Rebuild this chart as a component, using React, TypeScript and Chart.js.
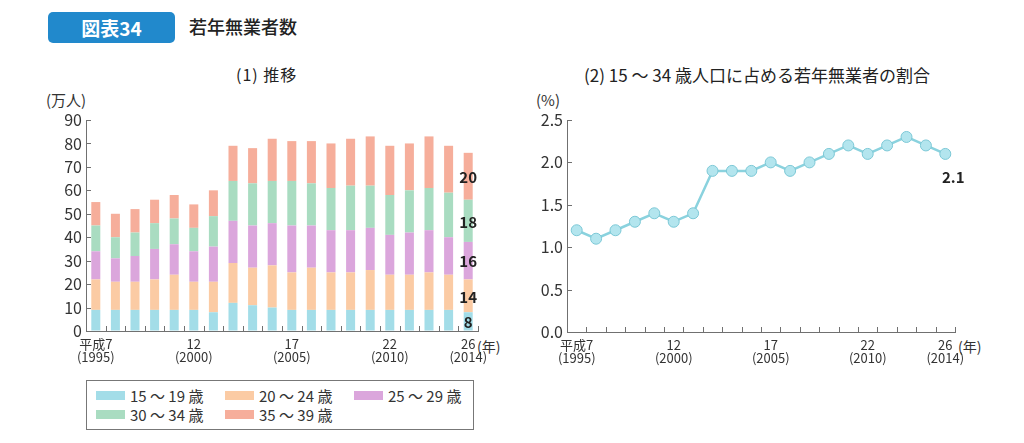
import React, { useEffect, useRef } from "react";
import { Chart, registerables } from "chart.js";

Chart.register(...registerables);

const years = ["1995","1996","1997","1998","1999","2000","2001","2002","2003","2004","2005","2006","2007","2008","2009","2010","2011","2012","2013","2014"];
const tickTop = ["平成7","","","","","12","","","","","17","","","","","22","","","","26"];
const tickBottom = ["(1995)","","","","","(2000)","","","","","(2005)","","","","","(2010)","","","","(2014)"];

const age15to19 = [9,9,9,9,9,9,8,12,11,10,9,9,9,9,9,9,9,9,9,8];
const age20to24 = [13,12,12,13,15,12,13,17,16,18,16,18,16,16,17,15,15,16,15,14];
const age25to29 = [12,10,11,13,13,13,15,18,18,18,20,18,18,18,18,17,18,18,16,16];
const age30to34 = [11,9,10,11,11,10,13,17,18,18,19,18,18,19,18,17,18,18,19,18];
const age35to39 = [10,10,10,10,10,10,11,15,15,18,17,18,19,20,21,21,20,22,20,20];

const ratio = [1.2,1.1,1.2,1.3,1.4,1.3,1.4,1.9,1.9,1.9,2.0,1.9,2.0,2.1,2.2,2.1,2.2,2.3,2.2,2.1];

const seriesNames = ["15 〜 19 歳","20 〜 24 歳","25 〜 29 歳","30 〜 34 歳","35 〜 39 歳"];
const seriesColors = ["#a3dde8","#fbcba4","#dba6dc","#a9dcc1","#f6ae9b"];

const FONT = "'Noto Sans CJK JP', 'Noto Sans', sans-serif";
const AXIS = "#707070";

const innerTicks = {
  id: "innerTicks",
  afterDraw(chart: any) {
    const { ctx, chartArea } = chart;
    const x = chart.scales.x;
    const y = chart.scales.y;
    ctx.save();
    ctx.strokeStyle = AXIS;
    ctx.lineWidth = 1;
    ctx.beginPath();
    y.ticks.forEach((_: any, i: number) => {
      const py = Math.round(y.getPixelForTick(i)) + 0.5;
      if (Math.abs(py - chartArea.bottom) < 2) return;
      ctx.moveTo(chartArea.left, py);
      ctx.lineTo(chartArea.left + 5, py);
    });
    const n = x.ticks.length;
    for (let i = 1; i <= n; i++) {
      const px = Math.round(x.left + (i * x.width) / n) + 0.5;
      ctx.moveTo(px, chartArea.bottom);
      ctx.lineTo(px, chartArea.bottom - 5);
    }
    ctx.stroke();
    ctx.restore();
  },
};

const lastBarLabels = {
  id: "lastBarLabels",
  afterDatasetsDraw(chart: any) {
    const { ctx } = chart;
    const idx = years.length - 1;
    ctx.save();
    ctx.font = `bold 15px ${FONT}`;
    ctx.fillStyle = "#222";
    ctx.textAlign = "center";
    ctx.textBaseline = "middle";
    chart.data.datasets.forEach((ds: any, di: number) => {
      const el = chart.getDatasetMeta(di).data[idx];
      ctx.fillText(String(ds.data[idx]), el.x, (el.y + el.base) / 2 + 1);
    });
    ctx.restore();
  },
};

const xTicks = {
  autoSkip: false,
  maxRotation: 0,
  padding: 7,
  color: "#333",
  font: { family: FONT, size: 13, lineHeight: 1.0 },
  callback: (_v: any, i: number) => (tickTop[i] ? [tickTop[i], tickBottom[i]] : ""),
};

function BarChart() {
  const ref = useRef<HTMLCanvasElement>(null);
  useEffect(() => {
    const data = [age15to19, age20to24, age25to29, age30to34, age35to39];
    const chart = new Chart(ref.current!, {
      type: "bar",
      data: {
        labels: years,
        datasets: data.map((d, i) => ({
          label: seriesNames[i],
          data: d,
          backgroundColor: seriesColors[i],
          borderWidth: 0,
          barPercentage: 0.46,
          categoryPercentage: 1,
        })),
      },
      options: {
        animation: false,
        responsive: false,
        layout: { padding: { left: 0, right: 22, top: 20, bottom: 0 } },
        plugins: { legend: { display: false }, tooltip: { enabled: false } },
        scales: {
          x: {
            stacked: true,
            grid: { display: true, drawOnChartArea: false, drawTicks: false },
            border: { display: true, color: AXIS, width: 1 },
            ticks: xTicks,
            afterFit: (s: any) => { s.height = 44; },
          },
          y: {
            stacked: true,
            min: 0,
            max: 90,
            ticks: { stepSize: 10, padding: 4, color: "#333", font: { family: FONT, size: 16 } },
            grid: { display: true, drawOnChartArea: false, drawTicks: false },
            border: { display: true, color: AXIS, width: 1 },
            afterFit: (s: any) => { s.width = 46; },
          },
        },
      },
      plugins: [innerTicks, lastBarLabels],
    });
    return () => chart.destroy();
  }, []);
  return <canvas ref={ref} width={460} height={275} style={{ position: "absolute", left: 40, top: 100 }} />;
}

function LineChart() {
  const ref = useRef<HTMLCanvasElement>(null);
  useEffect(() => {
    const chart = new Chart(ref.current!, {
      type: "line",
      data: {
        labels: years,
        datasets: [
          {
            data: ratio,
            borderColor: "#8ad2de",
            borderWidth: 2.5,
            pointRadius: 5.5,
            pointBackgroundColor: "#b3e5ee",
            pointBorderColor: "#7cc8d6",
            pointBorderWidth: 1,
            tension: 0,
          },
        ],
      },
      options: {
        animation: false,
        responsive: false,
        layout: { padding: { left: 0, right: 45, top: 20, bottom: 0 } },
        plugins: { legend: { display: false }, tooltip: { enabled: false } },
        scales: {
          x: {
            offset: true,
            grid: { display: true, drawOnChartArea: false, drawTicks: false, offset: true },
            border: { display: true, color: AXIS, width: 1 },
            ticks: xTicks,
            afterFit: (s: any) => { s.height = 43; },
          },
          y: {
            min: 0,
            max: 2.5,
            ticks: {
              stepSize: 0.5,
              padding: 4,
              color: "#333",
              font: { family: FONT, size: 16 },
              callback: (v: any) => Number(v).toFixed(1),
            },
            grid: { display: true, drawOnChartArea: false, drawTicks: false },
            border: { display: true, color: AXIS, width: 1 },
            afterFit: (s: any) => { s.width = 47; },
          },
        },
      },
      plugins: [
        innerTicks,
        {
          id: "lastLabel",
          afterDatasetsDraw(c: any) {
            const el = c.getDatasetMeta(0).data[ratio.length - 1];
            const ctx = c.ctx;
            ctx.save();
            ctx.font = `bold 15px ${FONT}`;
            ctx.fillStyle = "#222";
            ctx.textAlign = "center";
            ctx.textBaseline = "middle";
            ctx.fillText(ratio[ratio.length - 1].toFixed(1), el.x + 8, el.y + 23);
            ctx.restore();
          },
        },
      ],
    });
    return () => chart.destroy();
  }, []);
  return <canvas ref={ref} width={480} height={275} style={{ position: "absolute", left: 520, top: 100 }} />;
}

const txt: React.CSSProperties = { position: "absolute", fontFamily: FONT, color: "#333", whiteSpace: "nowrap", lineHeight: 1 };

export default function App() {
  return (
    <div style={{ position: "absolute", left: 0, top: 0, width: 1024, height: 443, background: "#fff", overflow: "hidden" }}>
      <div style={{ position: "absolute", left: 48, top: 12, width: 127, height: 31, background: "#2189cc", borderRadius: 5, color: "#fff", fontFamily: FONT, fontWeight: 700, fontSize: 19, display: "flex", alignItems: "center", justifyContent: "center" }}>
        図表34
      </div>
      <div style={{ ...txt, left: 189, top: 17, fontSize: 18, fontWeight: 500, color: "#222" }}>若年無業者数</div>

      <div style={{ ...txt, left: 236, top: 66, fontSize: 16, fontWeight: 400, color: "#222", letterSpacing: 1 }}>(1) 推移</div>
      <div style={{ ...txt, left: 584, top: 66, fontSize: 17, fontWeight: 400, color: "#222" }}>(2) 15 〜 34 歳人口に占める若年無業者の割合</div>

      <div style={{ ...txt, left: 46, top: 92, fontSize: 15 }}>(万人)</div>
      <div style={{ ...txt, left: 536, top: 92, fontSize: 15 }}>(%)</div>

      <div style={{ ...txt, left: 477, top: 339, fontSize: 14 }}>(年)</div>
      <div style={{ ...txt, left: 958, top: 339, fontSize: 14 }}>(年)</div>

      <BarChart />
      <LineChart />

      <div style={{ position: "absolute", left: 86, top: 380, width: 388, height: 50, border: "1px solid #777", boxSizing: "border-box" }}>
        {seriesNames.map((name, i) => {
          const col = i % 3;
          const row = Math.floor(i / 3);
          return (
            <div key={name} style={{ position: "absolute", left: 9 + col * 129, top: 5 + row * 19, display: "flex", alignItems: "center", height: 18 }}>
              <div style={{ width: 29, height: 9, background: seriesColors[i], marginRight: 5 }} />
              <span style={{ fontFamily: FONT, fontSize: 15, color: "#333", whiteSpace: "nowrap" }}>{name}</span>
            </div>
          );
        })}
      </div>
    </div>
  );
}
